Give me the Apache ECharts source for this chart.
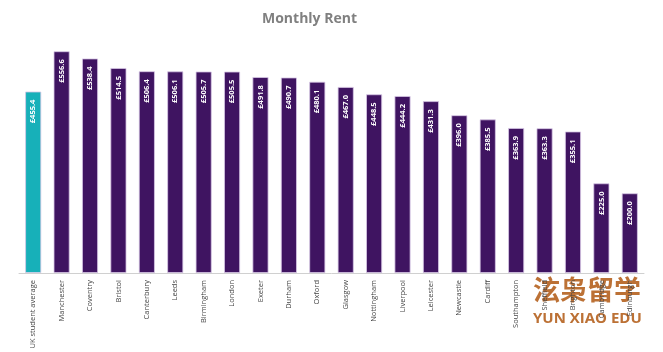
<!DOCTYPE html>
<html>
<head>
<meta charset="utf-8">
<script src="https://cdn.jsdelivr.net/npm/echarts@6/dist/echarts.min.js"></script>
<style>html,body{margin:0;padding:0;background:#fff}#c{width:663px;height:352px}</style>
</head>
<body>
<div id="c"></div>
<script>
const categories = ['UK student average','Manchester','Coventry','Bristol','Canterbury','Leeds','Birmingham','London','Exeter','Durham','Oxford','Glasgow','Nottingham','Liverpool','Leicester','Newcastle','Cardiff','Southampton','Sheffield','Brighton','Cambridge','Edinburgh'];
const rentValues = [455.4,556.6,538.4,514.5,506.4,506.1,505.7,505.5,491.8,490.7,480.1,467.0,448.5,444.2,431.3,396.0,385.5,363.9,363.3,355.1,225.0,200.0];

const chart = echarts.init(document.getElementById('c'));
chart.setOption({
  animation: false,
  title: {
    text: 'Monthly Rent',
    left: 257, top: 7,
    textStyle: { fontFamily: 'Open Sans', fontWeight: 'bold', fontSize: 14, color: '#808080' }
  },
  grid: { left: 19, right: 19, top: 34, bottom: 79 },
  xAxis: {
    type: 'category',
    data: categories,
    axisLine: { lineStyle: { color: '#d0d0d0', width: 1 } },
    axisTick: { show: false },
    axisLabel: {
      interval: 0, rotate: 90, margin: 7,
      fontFamily: 'Open Sans', fontSize: 7.5, color: '#454545'
    }
  },
  yAxis: {
    type: 'value', min: 0, max: 600,
    show: false, splitLine: { show: false }
  },
  series: [{
    type: 'bar',
    data: rentValues.map((v, i) => ({
      value: v,
      itemStyle: { color: i === 0 ? '#17b0b9' : '#3f1461' }
    })),
    barWidth: 16,
    itemStyle: { borderColor: '#d8c8e6', borderWidth: 0.8 },
    label: {
      show: true, position: 'insideTop', rotate: 90,
      align: 'right', verticalAlign: 'middle', distance: 8,
      formatter: p => '£' + p.value.toFixed(1),
      fontFamily: 'Open Sans', fontSize: 7.5, fontWeight: 'bold', color: '#ffffff'
    }
  }],
  graphic: [
    { type: 'text', left: 533, top: 276, style: { text: '泫枭留学', font: 'bold 27px "Noto Sans CJK SC"', fill: '#b8692a', opacity: 0.95 } },
    { type: 'text', left: 533, top: 311, style: { text: 'YUN XIAO EDU', font: 'bold 15px "Open Sans"', fill: '#b8692a', opacity: 0.95 } }
  ]
});
</script>
</body>
</html>
